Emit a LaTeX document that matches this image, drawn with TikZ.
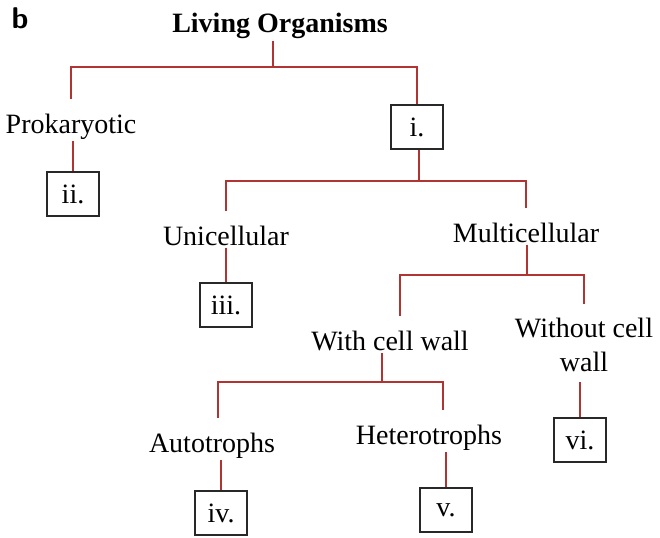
\documentclass[tikz,border=0pt]{standalone}
\usepackage{fontspec}
\setmainfont{Liberation Serif}
\usetikzlibrary{calc}

\definecolor{linkred}{RGB}{176,52,50}
\definecolor{boxgray}{RGB}{40,40,40}

\begin{document}
\begin{tikzpicture}[x=0.5pt,y=-0.5pt,
		every node/.style={font=\fontsize{14}{17}\selectfont},
		orgtext/.style={inner xsep=2pt,inner ysep=1pt,anchor=base},
		numbox/.style={draw=boxgray,line width=0.9pt,minimum width=26pt,minimum height=22pt,inner sep=0pt},
		branch/.style={draw=linkred,line width=0.9pt},
		drop/.style={branch,shorten >=6pt}]
		\useasboundingbox (0,0) rectangle (660,537);
		% heading
		\node[orgtext,font=\fontsize{15}{17}\selectfont\sffamily\bfseries] (mark) at (20,28) {b};
		\node[orgtext,font=\fontsize{14}{17}\selectfont\bfseries] (title) at (280,32) {Living Organisms};
		% groups
		\node[orgtext] (prok) at (71,133) {Prokaryotic};
		\node[orgtext] (uni) at (226,245) {Unicellular};
		\node[orgtext] (multi) at (526,242) {Multicellular};
		\node[orgtext] (withwall) at (390,350) {With cell wall};
		\node[inner xsep=2pt,inner ysep=1pt,align=center] (without) at (584,345) {Without cell\\wall};
		\node[orgtext] (auto) at (212,452) {Autotrophs};
		\node[orgtext] (hetero) at (429,444) {Heterotrophs};
		% answer boxes
		\foreach \n/\p/\t in {boxi/{(417,127)}/i., boxii/{(73,194)}/ii., boxiii/{(226,305)}/iii.,
			boxiv/{(221,513)}/iv., boxv/{(446,510)}/v., boxvi/{(580,440)}/vi.}
			\node[numbox] (\n) at \p {\t};
		% first split
		\coordinate (j0) at (273,67);
		\draw[branch] (j0 |- title.south) -- (j0);
		\draw[drop] (j0) -| (prok.north);
		\draw[branch] (j0) -| (boxi.north);
		\draw[branch] (prok.south -| boxii.north) -- (boxii.north);
		% eukaryotic split
		\coordinate (j1) at (419,181);
		\draw[branch] (boxi.south -| j1) -- (j1);
		\draw[drop] (j1) -| (uni.north);
		\draw[drop] (j1) -| (multi.north);
		\draw[branch] (uni.south -| boxiii.north) -- (boxiii.north);
		% multicellular split
		\coordinate (j2) at (527,275);
		\draw[branch] (multi.south -| j2) -- (j2);
		\draw[drop] (j2) -| ([xshift=5pt]withwall.north);
		\draw[drop] (j2) -| (without.north);
		\draw[branch] ([yshift=-4pt]without.south -| boxvi.north) -- (boxvi.north);
		% cell wall split
		\coordinate (j3) at (382,382);
		\draw[branch] (withwall.south -| j3) -- (j3);
		\draw[drop] (j3) -| ([xshift=3pt]auto.north);
		\draw[drop] (j3) -| ([xshift=7pt]hetero.north);
		\draw[branch] (auto.south -| boxiv.north) -- (boxiv.north);
		\draw[branch] (hetero.south -| boxv.north) -- (boxv.north);
	\end{tikzpicture}
\end{document}
